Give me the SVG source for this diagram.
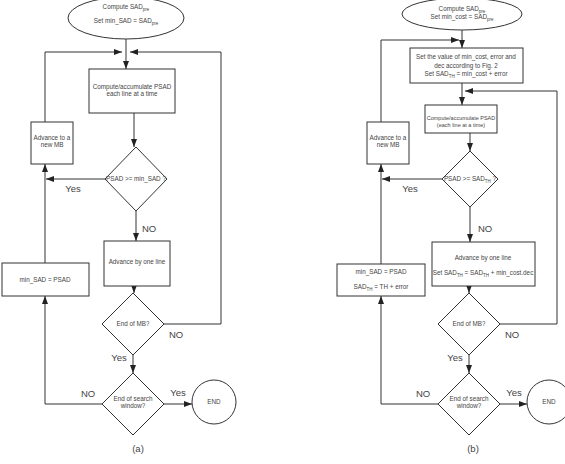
<svg xmlns="http://www.w3.org/2000/svg" width="565" height="464" viewBox="0 0 565 464">
<defs>
<style>
.s{fill:#fff;stroke:#333;stroke-width:1}
.c{fill:none;stroke:#333;stroke-width:1}
.t{font-family:"Liberation Sans",Arial,sans-serif;font-size:6.3px;fill:#444;text-anchor:middle}
.l{font-family:"Liberation Sans",Arial,sans-serif;font-size:9.5px;fill:#444;text-anchor:middle}
.sm{font-size:5.5px}
.sub{font-size:4.5px}
</style>
<marker id="ah" markerUnits="userSpaceOnUse" markerWidth="8" markerHeight="6" refX="8" refY="3" orient="auto">
<path d="M0,0 L8,3 L0,6 z" fill="#222"/>
</marker>
</defs>
<rect width="565" height="464" fill="#fff"/>

<g id="connectors">
<!-- panel a -->
<line class="c" x1="126" y1="39" x2="126" y2="69" marker-end="url(#ah)"/>
<path class="c" d="M45,122 V52 H122" marker-end="url(#ah)"/>
<path class="c" d="M164,324 H221 V52 H130" marker-end="url(#ah)"/>
<line class="c" x1="134" y1="113" x2="134" y2="147" marker-end="url(#ah)"/>
<line class="c" x1="105" y1="179" x2="46" y2="179" marker-end="url(#ah)"/>
<line class="c" x1="45" y1="263" x2="45" y2="164" marker-end="url(#ah)"/>
<line class="c" x1="136" y1="211" x2="136" y2="241" marker-end="url(#ah)"/>
<line class="c" x1="134" y1="286" x2="134" y2="293" marker-end="url(#ah)"/>
<line class="c" x1="133" y1="355" x2="133" y2="373" marker-end="url(#ah)"/>
<line class="c" x1="164" y1="404" x2="192" y2="404" marker-end="url(#ah)"/>
<path class="c" d="M102,404 H45 V296" marker-end="url(#ah)"/>
<!-- panel b -->
<line class="c" x1="462" y1="30" x2="462" y2="48" marker-end="url(#ah)"/>
<path class="c" d="M381,122 V40 H459" marker-end="url(#ah)"/>
<line class="c" x1="462" y1="83" x2="462" y2="105" marker-end="url(#ah)"/>
<path class="c" d="M500,324 H557 V91 H465" marker-end="url(#ah)"/>
<line class="c" x1="470" y1="133" x2="470" y2="151" marker-end="url(#ah)"/>
<line class="c" x1="442" y1="179" x2="382" y2="179" marker-end="url(#ah)"/>
<line class="c" x1="381" y1="264" x2="381" y2="164" marker-end="url(#ah)"/>
<line class="c" x1="470" y1="207" x2="470" y2="242" marker-end="url(#ah)"/>
<line class="c" x1="469" y1="286" x2="469" y2="293" marker-end="url(#ah)"/>
<line class="c" x1="469" y1="355" x2="469" y2="373" marker-end="url(#ah)"/>
<line class="c" x1="500" y1="404" x2="527" y2="404" marker-end="url(#ah)"/>
<path class="c" d="M438,404 H381 V296" marker-end="url(#ah)"/>
</g>

<g id="labels">
<text class="l" x="73" y="192">Yes</text>
<text class="l" x="149" y="232">NO</text>
<text class="l" x="176" y="338">NO</text>
<text class="l" x="119" y="361">Yes</text>
<text class="l" x="178" y="396">Yes</text>
<text class="l" x="88" y="397">NO</text>
<text class="l" x="138" y="452">(a)</text>
<text class="l" x="410" y="192">Yes</text>
<text class="l" x="485" y="232">NO</text>
<text class="l" x="512" y="338">NO</text>
<text class="l" x="455" y="361">Yes</text>
<text class="l" x="514" y="396">Yes</text>
<text class="l" x="423" y="397">NO</text>
<text class="l" x="473" y="452">(b)</text>
</g>

<!-- panel a nodes -->
<g id="a-start">
<ellipse class="s" cx="126" cy="18" rx="58" ry="21"/>
<text class="t" x="126" y="9">Compute SAD<tspan class="sub" dy="1.5">pre</tspan></text>
<text class="t" x="126" y="23">Set min_SAD = SAD<tspan class="sub" dy="1.5">pre</tspan></text>
</g>
<g id="a-compute">
<rect class="s" x="89" y="69" width="86" height="44"/>
<text class="t" x="132" y="89">Compute/accumulate PSAD</text>
<text class="t" x="132" y="96">each line at a time</text>
</g>
<g id="a-cmp">
<polygon class="s" points="136,147 167,179 136,211 105,179"/>
<text class="t" x="136" y="181">PSAD &gt;= min_SAD ?</text>
</g>
<g id="a-newmb">
<rect class="s" x="31" y="122" width="42" height="42"/>
<text class="t" x="52" y="140">Advance to a</text>
<text class="t" x="52" y="147">new MB</text>
</g>
<g id="a-minsad">
<rect class="s" x="2" y="263" width="87" height="33"/>
<text class="t" x="45" y="282">min_SAD = PSAD</text>
</g>
<g id="a-advline">
<rect class="s" x="104" y="241" width="66" height="45"/>
<text class="t" x="137" y="264">Advance by one line</text>
</g>
<g id="a-endmb">
<polygon class="s" points="133,293 164,324 133,355 102,324"/>
<text class="t" x="133" y="326">End of MB?</text>
</g>
<g id="a-endsw">
<polygon class="s" points="133,373 164,404 133,435 102,404"/>
<text class="t" x="133" y="401">End of search</text>
<text class="t" x="133" y="408">window?</text>
</g>
<g id="a-end">
<circle class="s" cx="214" cy="402" r="22"/>
<text class="t" x="214" y="404">END</text>
</g>

<!-- panel b nodes -->
<g id="b-start">
<ellipse class="s" cx="462" cy="14" rx="60" ry="16"/>
<text class="t" x="462" y="11">Compute SAD<tspan class="sub" dy="1.5">pre</tspan></text>
<text class="t" x="462" y="19">Set min_cost = SAD<tspan class="sub" dy="1.5">pre</tspan></text>
</g>
<g id="b-setval">
<rect class="s" x="410" y="48" width="113" height="35"/>
<text class="t" x="466" y="59">Set the value of min_cost, error and</text>
<text class="t" x="466" y="68">dec according to Fig. 2</text>
<text class="t" x="466" y="76">Set SAD<tspan class="sub" dy="1.5">TH</tspan><tspan dy="-1.5"> = min_cost + error</tspan></text>
</g>
<g id="b-compute">
<rect class="s" x="425" y="105" width="72" height="28"/>
<text class="t sm" x="461" y="120">Compute/accumulate PSAD</text>
<text class="t sm" x="461" y="127">(each line at a time)</text>
</g>
<g id="b-cmp">
<polygon class="s" points="470,151 498,179 470,207 442,179"/>
<text class="t" x="470" y="181">PSAD &gt;= SAD<tspan class="sub" dy="1.5">TH</tspan><tspan dy="-1.5"> ?</tspan></text>
</g>
<g id="b-newmb">
<rect class="s" x="367" y="122" width="42" height="42"/>
<text class="t" x="388" y="140">Advance to a</text>
<text class="t" x="388" y="147">new MB</text>
</g>
<g id="b-minsad">
<rect class="s" x="337" y="264" width="88" height="32"/>
<text class="t" x="381" y="274">min_SAD = PSAD</text>
<text class="t" x="381" y="289">SAD<tspan class="sub" dy="1.5">TH</tspan><tspan dy="-1.5"> = TH + error</tspan></text>
</g>
<g id="b-advline">
<rect class="s" x="432" y="242" width="103" height="44"/>
<text class="t" x="483" y="260">Advance by one line</text>
<text class="t" x="483" y="275">Set SAD<tspan class="sub" dy="1.5">TH</tspan><tspan dy="-1.5"> = SAD</tspan><tspan class="sub" dy="1.5">TH</tspan><tspan dy="-1.5"> + min_cost.dec</tspan></text>
</g>
<g id="b-endmb">
<polygon class="s" points="469,293 500,324 469,355 438,324"/>
<text class="t" x="469" y="326">End of MB?</text>
</g>
<g id="b-endsw">
<polygon class="s" points="469,373 500,404 469,435 438,404"/>
<text class="t" x="469" y="401">End of search</text>
<text class="t" x="469" y="408">window?</text>
</g>
<g id="b-end">
<circle class="s" cx="549" cy="402" r="22"/>
<text class="t" x="549" y="404">END</text>
</g>
</svg>
